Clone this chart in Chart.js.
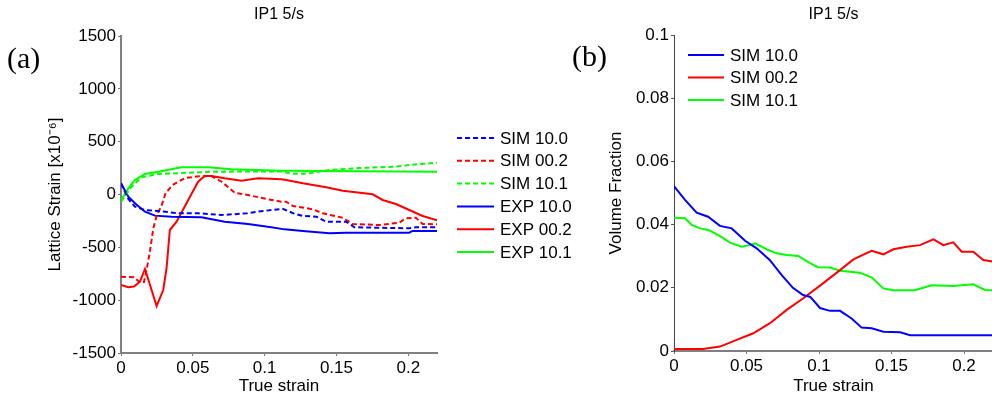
<!DOCTYPE html>
<html>
<head>
<meta charset="utf-8">
<script src="https://cdn.jsdelivr.net/npm/chart.js@4.4.1/dist/chart.umd.min.js"></script>
<style>
  html, body { margin: 0; padding: 0; background: #fff; overflow: hidden; }
  body { width: 992px; height: 396px; position: relative; }
  canvas { position: absolute; top: 0; }
  #chartA { left: 0; }
  #chartB { left: 560px; }
</style>
</head>
<body>
<canvas id="chartA" width="600" height="396"></canvas>
<canvas id="chartB" width="440" height="396"></canvas>
<script>
// tick values
const strainTicks = [0, 0.05, 0.1, 0.15, 0.2];
const latticeTicks = [-1500, -1000, -500, 0, 500, 1000, 1500];
const fractionTicks = [0, 0.02, 0.04, 0.06, 0.08, 0.1];

// (a) lattice strain, [true strain, x10^-6]
const simA_100 = [[0,106],[0.005,-40],[0.0097,-115],[0.0167,-147],[0.026,-156],[0.04,-178],[0.054,-178],[0.07,-194],[0.088,-178],[0.095,-163],[0.1046,-147],[0.113,-137],[0.12,-178],[0.1266,-203],[0.136,-210],[0.1428,-257],[0.1567,-257],[0.1625,-310],[0.2007,-320],[0.2053,-310],[0.22,-310]];
const simA_002 = [[0,-778],[0.009,-784],[0.0135,-835],[0.016,-830],[0.018,-700],[0.0201,-540],[0.0225,-320],[0.025,-190],[0.028,-115],[0.031,11],[0.036,90],[0.0444,155],[0.054,172],[0.063,175],[0.07,121],[0.0792,17],[0.0884,-5],[0.1023,-45],[0.1116,-68],[0.115,-68],[0.1197,-109],[0.1336,-140],[0.1405,-178],[0.1544,-220],[0.1613,-279],[0.18,-289],[0.1937,-267],[0.1984,-225],[0.2053,-220],[0.21,-279],[0.22,-282]];
const simA_101 = [[0,-70],[0.0074,74],[0.0144,163],[0.026,194],[0.042,203],[0.065,216],[0.1116,218],[0.12,196],[0.129,196],[0.145,232],[0.165,250],[0.191,263],[0.2007,279],[0.22,301]];
const expA_100 = [[0,106],[0.0051,-21],[0.0097,-83],[0.0167,-163],[0.0236,-200],[0.0352,-210],[0.056,-216],[0.0722,-257],[0.0884,-279],[0.1046,-310],[0.1139,-330],[0.1266,-345],[0.1451,-367],[0.1567,-361],[0.2007,-361],[0.203,-345],[0.22,-345]];
const expA_002 = [[0,-856],[0.0051,-878],[0.009,-870],[0.0132,-825],[0.0167,-705],[0.0213,-904],[0.0248,-1055],[0.0294,-904],[0.0317,-700],[0.034,-336],[0.0387,-257],[0.0468,-52],[0.0537,121],[0.0583,175],[0.063,175],[0.0722,153],[0.0838,131],[0.0954,153],[0.1116,144],[0.115,137],[0.1266,106],[0.1428,68],[0.1544,36],[0.1752,2],[0.1822,-52],[0.1914,-90],[0.2007,-147],[0.21,-203],[0.22,-245]];
const expA_101 = [[0,-55],[0.0051,58],[0.0097,137],[0.0167,194],[0.026,216],[0.042,257],[0.0606,257],[0.0769,238],[0.1116,225],[0.22,216]];

// (b) volume fraction, [true strain, fraction]
const simB_100 = [[0,0.0522],[0.0076,0.0478],[0.0156,0.0438],[0.0235,0.0425],[0.0317,0.0396],[0.0398,0.0388],[0.049,0.0349],[0.057,0.0325],[0.066,0.0288],[0.0743,0.024],[0.082,0.02],[0.089,0.0177],[0.094,0.0171],[0.1007,0.0136],[0.1076,0.0127],[0.1145,0.0127],[0.1225,0.0103],[0.1294,0.0074],[0.1363,0.0072],[0.1444,0.0061],[0.156,0.0059],[0.1628,0.005],[0.22,0.005]];
const simB_002 = [[0,0.0006],[0.02,0.0006],[0.0317,0.0014],[0.0432,0.0035],[0.0547,0.0056],[0.0662,0.0088],[0.0777,0.013],[0.0892,0.0167],[0.1007,0.0207],[0.1145,0.0256],[0.1237,0.029],[0.1363,0.0317],[0.1444,0.0306],[0.1513,0.0322],[0.1605,0.033],[0.1697,0.0335],[0.1789,0.0353],[0.1858,0.0335],[0.1926,0.0344],[0.1984,0.0314],[0.2064,0.0314],[0.2133,0.0288],[0.22,0.0283]];
const simB_101 = [[0,0.0422],[0.0076,0.042],[0.0122,0.0399],[0.018,0.0388],[0.0237,0.0383],[0.0283,0.0372],[0.034,0.0357],[0.0386,0.0343],[0.0467,0.033],[0.0524,0.0335],[0.0559,0.0341],[0.0639,0.0322],[0.0708,0.0309],[0.0777,0.0304],[0.0857,0.0301],[0.0938,0.0278],[0.0993,0.0265],[0.1076,0.0264],[0.1145,0.0254],[0.128,0.0248],[0.1363,0.0233],[0.1444,0.0198],[0.151,0.0192],[0.166,0.0192],[0.1777,0.0208],[0.1926,0.0206],[0.2064,0.0211],[0.2145,0.0193],[0.22,0.0192]];

const FONT = '"Liberation Sans", Arial, sans-serif';
Chart.defaults.font.family = FONT;
Chart.defaults.color = '#000';

const BLUE = '#0000ff', RED = '#ff0000', GREEN = '#00ff00';

function pts(arr) {
  return arr.map(p => ({ x: p[0], y: p[1] }));
}

function series(label, arr, color, dashed) {
  return {
    label: label,
    data: pts(arr),
    borderColor: color,
    borderWidth: 2,
    borderDash: dashed ? [5, 3] : [],
    pointRadius: 0,
    tension: 0,
    fill: false
  };
}

// legend drawn as short line samples + text, plus the (a)/(b) tag
const lineLegend = {
  id: 'lineLegend',
  afterDraw(chart, args, opts) {
    const ctx = chart.ctx;
    ctx.save();
    ctx.font = '17px ' + FONT;
    ctx.textBaseline = 'middle';
    ctx.fillStyle = '#000';
    chart.data.datasets.forEach((ds, i) => {
      const y = opts.y + i * opts.step;
      ctx.beginPath();
      ctx.setLineDash(ds.borderDash || []);
      ctx.strokeStyle = ds.borderColor;
      ctx.lineWidth = ds.borderWidth;
      ctx.moveTo(opts.x, y);
      ctx.lineTo(opts.x + opts.len, y);
      ctx.stroke();
      ctx.setLineDash([]);
      ctx.fillText(ds.label, opts.x + opts.len + 6, y + 1);
    });
    ctx.font = '30px "Liberation Serif", "Times New Roman", serif';
    ctx.textBaseline = 'alphabetic';
    ctx.fillText(opts.tag, opts.tagX, opts.tagY);
    ctx.restore();
  }
};

function fmt(v) {
  return String(+v.toFixed(4));
}

// (a) Lattice strain
new Chart(document.getElementById('chartA'), {
  type: 'line',
  data: {
    datasets: [
      series('SIM 10.0', simA_100, BLUE, true),
      series('SIM 00.2', simA_002, RED, true),
      series('SIM 10.1', simA_101, GREEN, true),
      series('EXP 10.0', expA_100, BLUE, false),
      series('EXP 00.2', expA_002, RED, false),
      series('EXP 10.1', expA_101, GREEN, false)
    ]
  },
  options: {
    responsive: false,
    animation: false,
    layout: { padding: { left: 0, right: 163, top: 0, bottom: 0 } },
    plugins: {
      legend: { display: false },
      tooltip: { enabled: false },
      title: {
        display: true, text: 'IP1 5/s', fullSize: false,
        font: { size: 16, weight: 'normal' }, padding: { top: 5, bottom: 11.8 }
      },
      lineLegend: { x: 457, y: 138, step: 22.8, len: 37, tag: '(a)', tagX: 7, tagY: 68 }
    },
    scales: {
      x: {
        type: 'linear', min: 0, max: 0.22,
        afterBuildTicks: s => { s.ticks = strainTicks.map(v => ({ value: v })); },
        afterFit: s => { s.height = 43; },
        ticks: { font: { size: 17 }, padding: 2, maxRotation: 0, callback: fmt },
        grid: { drawOnChartArea: false, tickLength: 3, color: '#777' },
        border: { color: '#808080', width: 2 },
        title: { display: true, text: 'True strain', font: { size: 17 }, padding: { top: 0, bottom: -1 } }
      },
      y: {
        type: 'linear', min: -1500, max: 1500,
        afterBuildTicks: s => { s.ticks = latticeTicks.map(v => ({ value: v })); },
        afterFit: s => { s.width = 121; },
        ticks: { font: { size: 17 }, padding: 2, callback: fmt },
        grid: { drawOnChartArea: false, tickLength: 3, color: '#777' },
        border: { color: '#808080', width: 2 },
        title: { display: true, text: 'Lattice Strain [x10\u207B\u2076]', font: { size: 17 }, padding: { top: 45, bottom: 0 } }
      }
    }
  },
  plugins: [lineLegend]
});

// (b) Volume fraction
new Chart(document.getElementById('chartB'), {
  type: 'line',
  data: {
    datasets: [
      series('SIM 10.0', simB_100, BLUE, false),
      series('SIM 00.2', simB_002, RED, false),
      series('SIM 10.1', simB_101, GREEN, false)
    ]
  },
  options: {
    responsive: false,
    animation: false,
    layout: { padding: { left: 0, right: 7, top: 0, bottom: 0 } },
    plugins: {
      legend: { display: false },
      tooltip: { enabled: false },
      title: {
        display: true, text: 'IP1 5/s', fullSize: false,
        font: { size: 16, weight: 'normal' }, padding: { top: 5, bottom: 10.8 }
      },
      lineLegend: { x: 128, y: 55, step: 22.5, len: 36, tag: '(b)', tagX: 12, tagY: 66 }
    },
    scales: {
      x: {
        type: 'linear', min: 0, max: 0.22,
        afterBuildTicks: s => { s.ticks = strainTicks.map(v => ({ value: v })); },
        afterFit: s => { s.height = 45; },
        ticks: { font: { size: 17 }, padding: 2, maxRotation: 0, callback: fmt },
        grid: { drawOnChartArea: false, tickLength: 3, color: '#777' },
        border: { color: '#808080', width: 2 },
        title: { display: true, text: 'True strain', font: { size: 17 }, padding: { top: 0, bottom: -1 } }
      },
      y: {
        type: 'linear', min: 0, max: 0.1,
        afterBuildTicks: s => { s.ticks = fractionTicks.map(v => ({ value: v })); },
        afterFit: s => { s.width = 114; },
        ticks: { font: { size: 17 }, padding: 2, callback: fmt },
        grid: { drawOnChartArea: false, tickLength: 3, color: '#555' },
        border: { color: '#444', width: 1 },
        title: { display: true, text: 'Volume Fraction', font: { size: 17 }, padding: { top: 46, bottom: 0 } }
      }
    }
  },
  plugins: [lineLegend]
});
</script>
</body>
</html>
